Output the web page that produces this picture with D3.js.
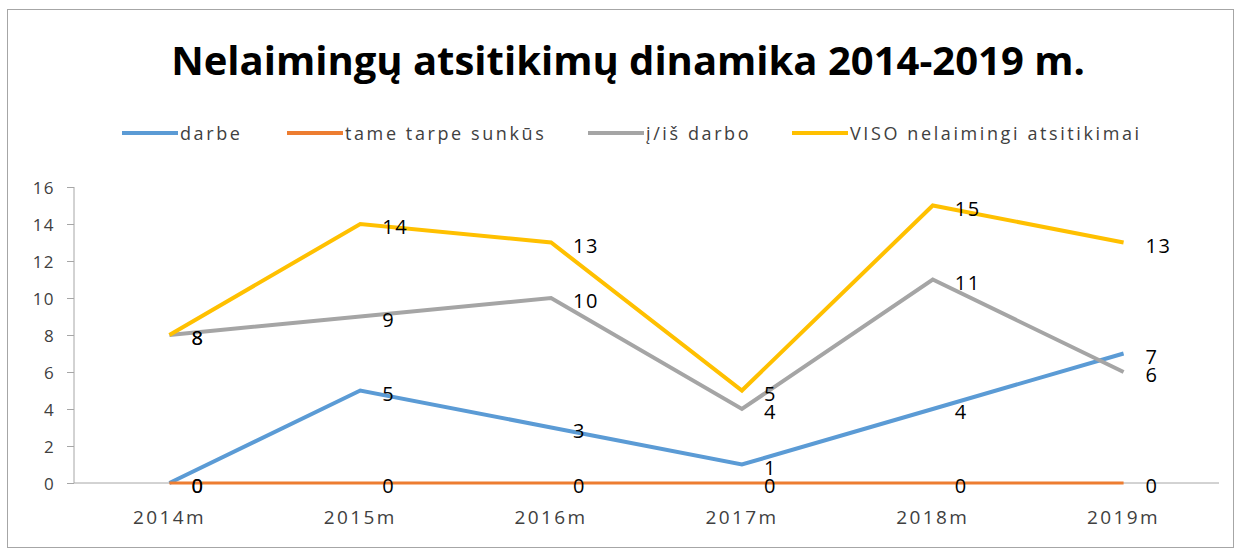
<!DOCTYPE html>
<html>
<head>
  <meta charset="utf-8">
  <script src="https://d3js.org/d3.v7.min.js"></script>
  <style>
    body { margin: 0; background: #fff; }
    text { font-family: 'Open Sans', Lato, sans-serif; }
    .title { font-size: 40px; font-weight: 700; fill: #000; }
    .legend text { font-size: 18px; fill: #404040; letter-spacing: 2.6px; }
    .axis text { font-size: 17px; fill: #404040; letter-spacing: 1.4px; }
    .axis.x text { font-size: 19px; letter-spacing: 2.4px; }
    .label { font-size: 20px; fill: #000; letter-spacing: 1.5px; }
    .line { fill: none; stroke-linejoin: miter; }
  </style>
</head>
<body>
<div id="chart"></div>
<script>
  // chart data
  var years = ["2014m", "2015m", "2016m", "2017m", "2018m", "2019m"];
  var darbe = [0, 5, 3, 1, 4, 7];
  var sunkus = [0, 0, 0, 0, 0, 0];
  var isDarbo = [8, 9, 10, 4, 11, 6];
  var viso = [8, 14, 13, 5, 15, 13];
  var yTicks = [0, 2, 4, 6, 8, 10, 12, 14, 16];

  var series = [
    { name: "darbe", values: darbe, color: "#5B9BD5", w: 4 },
    { name: "tame tarpe sunkūs", values: sunkus, color: "#ED7D31", w: 3 },
    { name: "į/iš darbo", values: isDarbo, color: "#A5A5A5", w: 4 },
    { name: "VISO nelaimingi atsitikimai", values: viso, color: "#FFC000", w: 4 }
  ];

  var width = 1242, height = 552;
  var plot = { left: 74, right: 1219, top: 187, bottom: 483 };

  var svg = d3.select("#chart").append("svg")
      .attr("width", width)
      .attr("height", height);

  // outer border
  svg.append("rect")
      .attr("x", 7.5).attr("y", 9.5)
      .attr("width", 1226).attr("height", 538)
      .attr("fill", "#fff")
      .attr("stroke", "#a6a6a6");

  svg.append("text")
      .attr("class", "title")
      .attr("x", 628)
      .attr("y", 75)
      .attr("text-anchor", "middle")
      .text("Nelaimingų atsitikimų dinamika 2014-2019 m.");

  var x = d3.scaleBand().domain(years).range([plot.left, plot.right]);
  var y = d3.scaleLinear().domain([0, 16]).range([plot.bottom, plot.top]);

  // y axis
  var yAxis = svg.append("g")
      .attr("class", "axis y")
      .attr("transform", "translate(" + plot.left + ",0)")
      .call(d3.axisLeft(y).tickValues(yTicks).tickSize(7).tickPadding(12));
  yAxis.selectAll("line").attr("stroke", "#a6a6a6");
  yAxis.select(".domain").attr("stroke", "#a6a6a6").attr("d", "M0," + plot.top + "V" + plot.bottom);
  yAxis.selectAll("text").attr("dy", "0.36em");

  // x axis
  var xAxis = svg.append("g")
      .attr("class", "axis x")
      .attr("transform", "translate(0," + plot.bottom + ")")
      .call(d3.axisBottom(x).tickSize(0).tickPadding(28));
  xAxis.select(".domain").attr("stroke", "#a6a6a6").attr("d", "M" + plot.left + ",0H" + plot.right);

  var cx = function(d, i) { return x(years[i]) + x.bandwidth() / 2; };

  var line = d3.line()
      .x(cx)
      .y(function(d) { return y(d); });

  series.forEach(function(s) {
    svg.append("path")
        .attr("class", "line")
        .attr("d", line(s.values))
        .attr("stroke", s.color)
        .attr("stroke-width", s.w);
  });

  // data labels, placed right of each point
  series.forEach(function(s) {
    svg.selectAll(null)
        .data(s.values)
        .enter().append("text")
        .attr("class", "label")
        .attr("x", function(d, i) { return cx(d, i) + 22; })
        .attr("y", function(d) { return y(d) + 3; })
        .attr("dy", "0.36em")
        .text(function(d) { return d; });
  });

  // legend
  var legendX = [122, 287, 588, 792];
  var legend = svg.append("g").attr("class", "legend");
  series.forEach(function(s, i) {
    legend.append("line")
        .attr("x1", legendX[i]).attr("x2", legendX[i] + 56)
        .attr("y1", 133).attr("y2", 133)
        .attr("stroke", s.color)
        .attr("stroke-width", 4);
    legend.append("text")
        .attr("x", legendX[i] + 58)
        .attr("y", 140)
        .text(s.name);
  });
</script>
</body>
</html>
